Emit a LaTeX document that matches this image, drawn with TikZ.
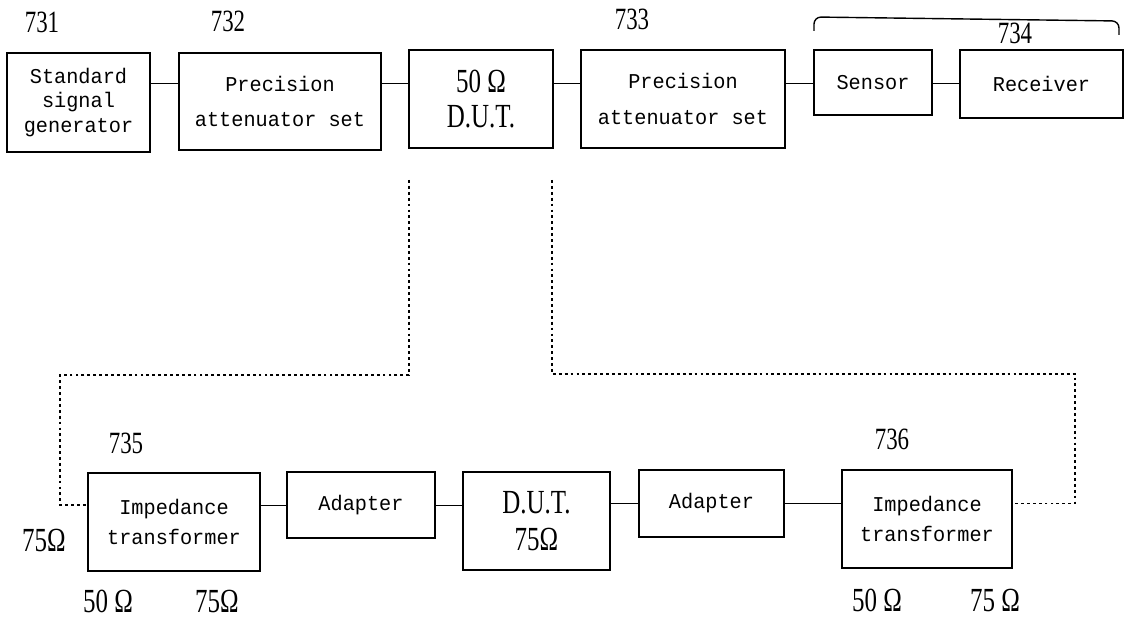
\documentclass[tikz,border=0pt]{standalone}
\usepackage{fontspec}
\newfontfamily\boxfont[FakeStretch=0.96]{Liberation Mono}
\newfontfamily\numfont[FakeStretch=0.74]{Liberation Serif}
\usetikzlibrary{positioning}

\begin{document}
\begin{tikzpicture}[x=0.025cm, y=-0.025cm,
  box/.style={draw, line width=1.1pt, inner sep=0pt, align=center, font=\boxfont\fontsize{15}{17.5}\selectfont},
  dutbox/.style={draw, line width=1.1pt, inner sep=0pt, align=center, font=\numfont\fontsize{24}{25}\selectfont},
  refnum/.style={inner sep=0pt, font=\numfont\fontsize{22}{26}\selectfont},
  ohm/.style={inner sep=0pt, font=\numfont\fontsize{24}{28}\selectfont},
  line/.style={draw, line width=0.7pt},
  dotline/.style={draw, line width=0.9pt, dash pattern=on 2pt off 2.2pt}
]
\useasboundingbox (0,0) rectangle (1127,624);

% Upper chain
\node[box, minimum width=3.575cm, minimum height=2.475cm] (gen) at (78.5,102.5) {Standard\\signal\\generator};
\node[box, minimum width=5.05cm, minimum height=2.425cm] (attA) at (280,101.5) {Precision\\[8pt]attenuator set};
\node[dutbox, minimum width=3.6cm, minimum height=2.45cm] (dutA) at (481,99) {50 Ω\\D.U.T.};
\node[box, minimum width=5.1cm, minimum height=2.45cm] (attB) at (683,99) {Precision\\[8pt]attenuator set};
\node[box, minimum width=2.95cm, minimum height=1.625cm] (sensor) at (873,82.5) {Sensor};
\node[box, minimum width=4.075cm, minimum height=1.7cm] (recv) at (1041.5,84) {Receiver};

% Lower chain
\node[box, minimum width=4.3cm, minimum height=2.45cm] (trA) at (174,522) {Impedance\\[4pt]transformer};
\node[box, minimum width=3.7cm, minimum height=1.65cm] (adA) at (361,505) {Adapter};
\node[dutbox, minimum width=3.675cm, minimum height=2.45cm] (dutB) at (536.5,521) {D.U.T.\\[1pt]75Ω};
\node[box, minimum width=3.625cm, minimum height=1.675cm] (adB) at (711.5,503.5) {Adapter};
\node[box, minimum width=4.25cm, minimum height=2.45cm] (trB) at (927,519) {Impedance\\[4pt]transformer};

% Reference numbers
\node[refnum] (n731) at (42,22) {731};
\node[refnum] (n732) at (228,21) {732};
\node[refnum] (n733) at (632,19) {733};
\node[refnum] (n734) at (1015,33) {734};
\node[refnum] (n735) at (126,443) {735};
\node[refnum] (n736) at (892,439) {736};

% Impedance labels
\node[ohm] (zL) at (44,540) {75Ω};
\node[ohm] (zA1) at (108,601) {50 Ω};
\node[ohm] (zA2) at (217,601) {75Ω};
\node[ohm] (zB1) at (877,600) {50 Ω};
\node[ohm] (zB2) at (995,600) {75 Ω};

% Connections
\coordinate (busT) at (0,83);
\draw[line] (gen.east |- busT) -- (attA.west |- busT);
\draw[line] (attA.east |- busT) -- (dutA.west |- busT);
\draw[line] (dutA.east |- busT) -- (attB.west |- busT);
\draw[line] (attB.east |- busT) -- (sensor.west |- busT);
\draw[line] (sensor.east |- busT) -- (recv.west |- busT);

\draw[line] (trA.east |- adA) -- (adA.west);
\draw[line] (adA.east) -- (dutB.west |- adA);
\draw[line] (dutB.east |- adB) -- (adB.west);
\draw[line] (adB.east) -- (trB.west |- adB);

% Substitution paths
\coordinate (tapL) at (409,180);
\coordinate (tapR) at (552,180);
\coordinate (bendL) at (60,375);
\coordinate (bendR) at (1075,374);
\draw[dotline] (tapL) |- (bendL) |- (trA.west |- adA);
\draw[dotline] (tapR) |- (bendR) |- (trB.east |- adB);

% Brace over 734
\coordinate (brL) at (814,31);
\draw[line width=1pt, rounded corners=5pt] (brL) -- ++(0,-14) -- ++(305,4) -- ++(0,14);

\end{tikzpicture}
\end{document}
